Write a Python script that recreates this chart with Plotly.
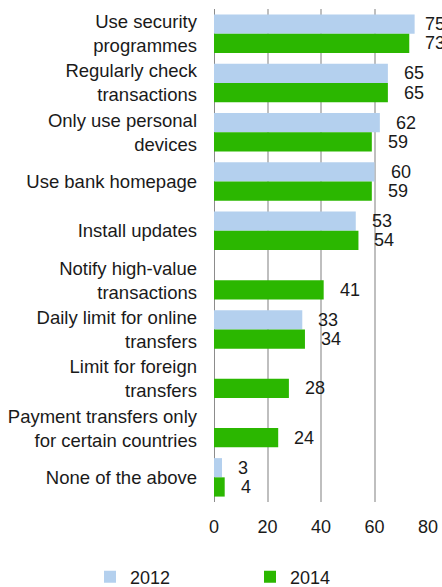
import plotly.graph_objects as go

categories = [
    "Use security<br>programmes",
    "Regularly check<br>transactions",
    "Only use personal<br>devices",
    "Use bank homepage",
    "Install updates",
    "Notify high-value<br>transactions",
    "Daily limit for online<br>transfers",
    "Limit for foreign<br>transfers",
    "Payment transfers only<br>for certain countries",
    "None of the above",
]
values_2012 = [75, 65, 62, 60, 53, None, 33, None, None, 3]
values_2014 = [73, 65, 59, 59, 54, 41, 34, 28, 24, 4]
x_ticks = [0, 20, 40, 60, 80]

FONT = "Liberation Sans, Arial, sans-serif"
TEXT = "#1a1a1a"
BLUE = "#b4d0ee"
GREEN = "#2bb700"

fig = go.Figure()
fig.add_trace(go.Bar(y=categories, x=values_2012, orientation="h", name="2012", showlegend=True,
                     marker=dict(color=BLUE, line=dict(width=0)), legend="legend"))
fig.add_trace(go.Bar(y=categories, x=values_2014, orientation="h", name="2014", showlegend=True,
                     marker=dict(color=GREEN, line=dict(width=0)), legend="legend2"))

# value labels, a little to the right of each bar end
# (pulled in a bit when the bar nearly reaches the axis end)
annotations = []
for vals, shift in ((values_2012, 9.6), (values_2014, -9.6)):
    for cat, v in zip(categories, vals):
        if v is None:
            continue
        annotations.append(dict(
            x=v, y=cat, text=str(v), showarrow=False, xanchor="left",
            xshift=8 if v >= 75 else 14, yshift=shift,
            font=dict(family=FONT, size=18, color=TEXT),
        ))

legend_common = dict(
    orientation="h", xref="container", yref="container",
    y=0.017, xanchor="left", yanchor="middle", itemwidth=30,
    bgcolor="rgba(0,0,0,0)", font=dict(family=FONT, size=18, color=TEXT),
)

fig.update_layout(
    width=442, height=587, showlegend=True,
    margin=dict(l=214, r=14, t=9, b=85, autoexpand=False),
    paper_bgcolor="white", plot_bgcolor="white",
    barmode="group", bargap=0.22, bargroupgap=0,
    font=dict(family=FONT, size=18, color=TEXT),
    annotations=annotations,
    legend=dict(x=90 / 442, **legend_common),
    legend2=dict(x=250 / 442, **legend_common),
    xaxis=dict(
        range=[0, 80], tickvals=x_ticks, showgrid=True, gridcolor="#bfbfbf", gridwidth=1.5,
        zeroline=True, zerolinecolor="#8c8c8c", zerolinewidth=1.3,
        showline=False, ticks="", ticklabelstandoff=12, automargin=False,
        tickfont=dict(family=FONT, size=18, color=TEXT),
    ),
    yaxis=dict(
        autorange="reversed", showgrid=False, ticks="", ticklabelstandoff=16,
        automargin=False, tickfont=dict(family=FONT, size=18.5, color=TEXT),
    ),
)

fig.write_html("out.html", config={"displayModeBar": False},
               post_script="document.body.style.margin='0';")
